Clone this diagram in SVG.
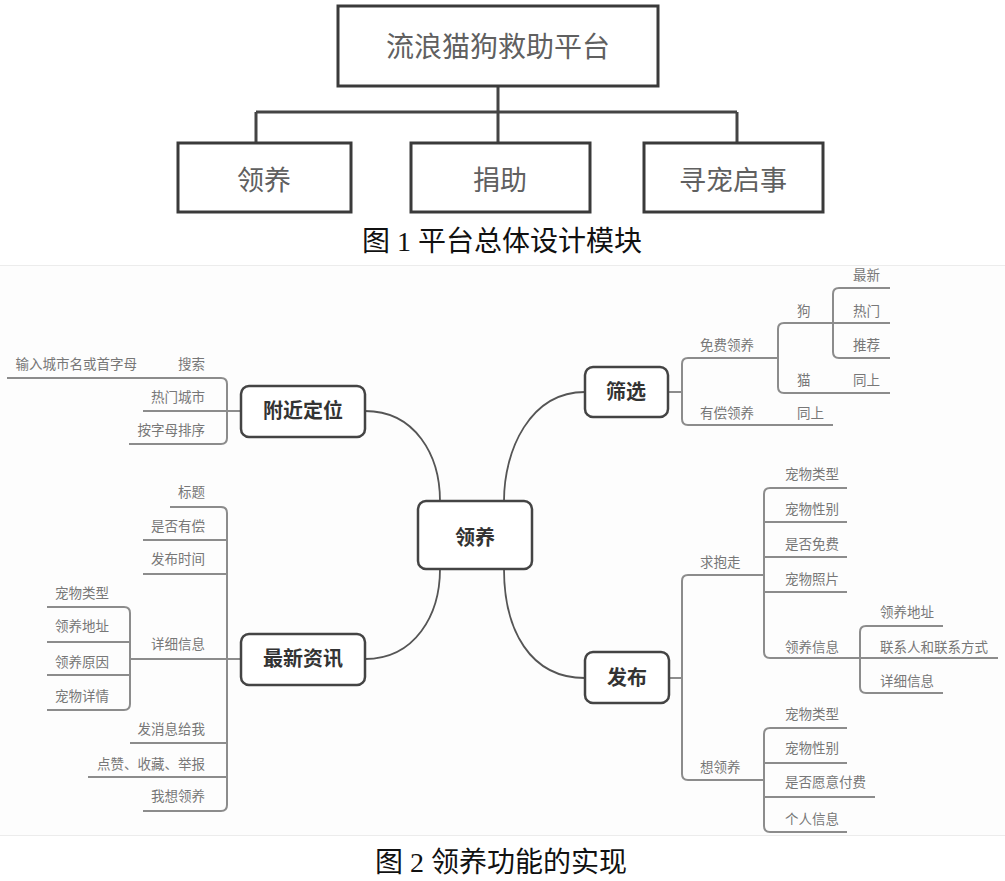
<svg xmlns="http://www.w3.org/2000/svg" width="1005" height="881" viewBox="0 0 1005 881">
<style>
.tbox{fill:#fff;stroke:#3a3a3a;stroke-width:3}
.tconn{fill:none;stroke:#444;stroke-width:3}
.ttext{font-family:"Liberation Serif","Noto Sans CJK SC",serif;fill:#606060;text-anchor:middle}
.cap{font-family:"Liberation Serif","Noto Sans CJK SC",serif;fill:#111;text-anchor:middle;font-size:28px}
.node{fill:#fff;stroke:#444;stroke-width:2.5}
.ntext{font-family:"Noto Sans CJK SC",sans-serif;font-weight:bold;fill:#333;text-anchor:middle;font-size:20px}
.curve{fill:none;stroke:#555;stroke-width:1.8}
.br{fill:none;stroke:#8c8c8c;stroke-width:2}
.lt{font-family:"Noto Sans CJK SC",sans-serif;fill:#777;font-size:13.5px}
.e{text-anchor:end}
</style>
<rect x="0" y="0" width="1005" height="881" fill="#fff"/>
<!-- Figure 1 -->
<g id="fig1-connectors">
<path class="tconn" d="M498,86 V112 M256,112 H737 M256,112 V143 M498,112 V143 M737,112 V143"/>
</g>
<g id="fig1-root"><rect class="tbox" x="338" y="6" width="320" height="80"/><text class="ttext" x="498" y="57" font-size="28">流浪猫狗救助平台</text></g>
<g id="fig1-lingyang"><rect class="tbox" x="178" y="143" width="173" height="69"/><text class="ttext" x="264" y="190" font-size="27">领养</text></g>
<g id="fig1-juanzhu"><rect class="tbox" x="411" y="143" width="179" height="69"/><text class="ttext" x="500" y="190" font-size="27">捐助</text></g>
<g id="fig1-xunchong"><rect class="tbox" x="644" y="143" width="179" height="69"/><text class="ttext" x="733" y="190" font-size="27">寻宠启事</text></g>
<text class="cap" x="502" y="251">图 1 平台总体设计模块</text>
<!-- Figure 2 background -->
<rect x="0" y="265" width="1005" height="571" fill="#fdfdfd"/>
<path d="M0,265.5 H1005 M0,835.5 H1005" stroke="#ececec" stroke-width="1"/>
<!-- Connectors -->
<g id="connectors">
<path class="curve" d="M365,411 C415,411 440,455 440,501"/>
<path class="curve" d="M504,501 C504,450 530,392 585,392"/>
<path class="curve" d="M365,659 C415,659 440,615 440,569"/>
<path class="curve" d="M504,569 C504,630 530,678 585,678"/>
<!-- 附近定位 -->
<path class="br" d="M241,411 H143"/>
<path class="br" d="M7,378 H221 Q227,378 227,384 V438 Q227,444 221,444 H129"/>
<!-- 最新资讯 -->
<path class="br" d="M241,659 H130"/>
<path class="br" d="M170,507 H221 Q227,507 227,513 V805 Q227,811 221,811 H143"/>
<path class="br" d="M143,540 H227 M143,574 H227 M130,743 H227 M88,777 H227"/>
<path class="br" d="M47,607 H124 Q130,607 130,613 V704 Q130,710 124,710 H47 M47,642 H130 M47,675 H130"/>
<!-- 筛选 -->
<path class="br" d="M668,392 H682"/>
<path class="br" d="M778,358 H688 Q682,358 682,364 V419 Q682,425 688,425 H833"/>
<path class="br" d="M890,393 H784 Q778,393 778,387 V329 Q778,323 784,323 H890"/>
<path class="br" d="M890,288 H839 Q833,288 833,294 V352 Q833,358 839,358 H890"/>
<!-- 发布 -->
<path class="br" d="M669,678 H682"/>
<path class="br" d="M764,575 H688 Q682,575 682,581 V774 Q682,780 688,780 H764"/>
<path class="br" d="M847,488 H770 Q764,488 764,494 V652 Q764,658 770,658 H998 M764,522 H847 M764,557 H847 M764,592 H847"/>
<path class="br" d="M943,626 H866 Q860,626 860,632 V687 Q860,693 866,693 H943"/>
<path class="br" d="M847,728 H770 Q764,728 764,734 V826 Q764,832 770,832 H847 M764,763 H847 M764,797 H875"/>
</g>
<!-- Nodes -->
<g id="center"><rect class="node" x="418" y="501" width="114" height="68" rx="8"/><text class="ntext" x="475" y="545" font-size="22">领养</text></g>
<g id="fujin"><rect class="node" x="241" y="386" width="124" height="51" rx="8"/><text class="ntext" x="303" y="418">附近定位</text></g>
<g id="zuixin"><rect class="node" x="241" y="634" width="124" height="51" rx="8"/><text class="ntext" x="303" y="666">最新资讯</text></g>
<g id="shaixuan"><rect class="node" x="585" y="367" width="83" height="50" rx="8"/><text class="ntext" x="626" y="399">筛选</text></g>
<g id="fabu"><rect class="node" x="585" y="652" width="84" height="51" rx="8"/><text class="ntext" x="627" y="685">发布</text></g>
<!-- Leaf labels -->
<g id="fujin-leaves">
<text class="lt e" x="205" y="369">搜索</text>
<text class="lt e" x="137" y="369">输入城市名或首字母</text>
<text class="lt e" x="205" y="402">热门城市</text>
<text class="lt e" x="205" y="435">按字母排序</text>
</g>
<g id="zuixin-leaves">
<text class="lt e" x="205" y="497">标题</text>
<text class="lt e" x="205" y="531">是否有偿</text>
<text class="lt e" x="205" y="564">发布时间</text>
<text class="lt e" x="205" y="649">详细信息</text>
<text class="lt" x="55" y="598">宠物类型</text>
<text class="lt" x="55" y="631">领养地址</text>
<text class="lt" x="55" y="667">领养原因</text>
<text class="lt" x="55" y="701">宠物详情</text>
<text class="lt e" x="205" y="734">发消息给我</text>
<text class="lt e" x="205" y="769">点赞、收藏、举报</text>
<text class="lt e" x="205" y="801">我想领养</text>
</g>
<g id="shaixuan-leaves">
<text class="lt" x="700" y="350">免费领养</text>
<text class="lt" x="700" y="418">有偿领养</text>
<text class="lt" x="797" y="316">狗</text>
<text class="lt" x="797" y="385">猫</text>
<text class="lt" x="797" y="418">同上</text>
<text class="lt" x="853" y="280">最新</text>
<text class="lt" x="853" y="316">热门</text>
<text class="lt" x="853" y="350">推荐</text>
<text class="lt" x="853" y="385">同上</text>
</g>
<g id="fabu-leaves">
<text class="lt" x="700" y="567">求抱走</text>
<text class="lt" x="785" y="479">宠物类型</text>
<text class="lt" x="785" y="514">宠物性别</text>
<text class="lt" x="785" y="549">是否免费</text>
<text class="lt" x="785" y="584">宠物照片</text>
<text class="lt" x="785" y="652">领养信息</text>
<text class="lt" x="880" y="617">领养地址</text>
<text class="lt" x="880" y="652">联系人和联系方式</text>
<text class="lt" x="880" y="686">详细信息</text>
<text class="lt" x="700" y="772">想领养</text>
<text class="lt" x="785" y="719">宠物类型</text>
<text class="lt" x="785" y="753">宠物性别</text>
<text class="lt" x="785" y="787">是否愿意付费</text>
<text class="lt" x="785" y="824">个人信息</text>
</g>
<text class="cap" x="501" y="872">图 2 领养功能的实现</text>
</svg>
